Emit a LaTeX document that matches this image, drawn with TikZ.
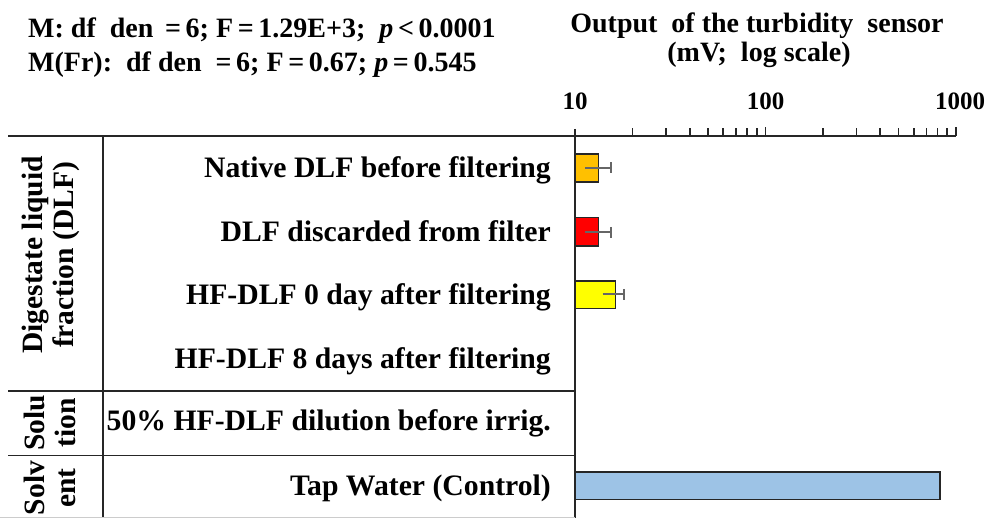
\documentclass[tikz,border=0pt]{standalone}
\usepackage{fontspec}
\setmainfont{Liberation Serif}
\begin{document}
\begin{tikzpicture}[x=1pt,y=-1pt,
  lab/.style={font=\fontsize{29.7}{32}\selectfont\bfseries, inner sep=0pt, anchor=base east},
  grp/.style={font=\fontsize{29.5}{31}\selectfont\bfseries, inner sep=0pt, align=center, rotate=90, anchor=center},
  hdr/.style={font=\fontsize{28}{30}\selectfont\bfseries, inner sep=0pt},
  tick/.style={font=\fontsize{25}{28}\selectfont\bfseries, inner sep=0pt, anchor=base},
  frame/.style={line width=1.8pt, black!85},
  bar/.style={line width=1.5pt, draw=black!85},
  err/.style={line width=2pt, draw=black!60}
]
\useasboundingbox (0,0) rectangle (987,518);
% header texts
\node[hdr, anchor=base west] (s1) at (28,38) {M:\ df\ \ den \,=\,6; F\,=\,1.29E+3;\ \ \textit{p}\,<\,0.0001};
\node[hdr, anchor=base west] (s2) at (28,71.5) {M(Fr):\ \ df\ den \ =\,6; F\,=\,0.67; \textit{p}\,=\,0.545};
\node[hdr, anchor=base] (t1) at (757,33) {Output\ \ of the turbidity\ \ sensor};
\node[hdr, anchor=base] (t2) at (759,62) {(mV;\ \ log scale)};
% tick labels
\node[tick] (k10) at (575,110) {10};
\node[tick] (k100) at (765.5,110) {100};
\node[tick] (k1000) at (960,110) {1000};
% frame lines
\draw[frame] (8,136) -- (956,136);
\draw[frame] (575,129) -- (575,518);
\draw[frame] (103,136) -- (103,518);
\draw[frame] (8,391) -- (575,391);
\draw[frame] (8,455.5) -- (575,455.5);
\draw[line width=1pt, black!20] (0,517) -- (575,517);
% ticks
\foreach \d in {575,765.5}{
  \foreach \m in {2,...,9}{
    \pgfmathsetmacro\xx{\d+190.5*log10(\m)}
    \draw[line width=1.6pt, black!85] (\xx,136) -- (\xx,128.5);
  }
}
\draw[line width=1.6pt, black!85] (765.5,136) -- (765.5,127.5);
\draw[line width=1.6pt, black!85] (956,136) -- (956,127.5);
% bars
\draw[bar, fill={rgb,255:red,255;green,192;blue,0}] (575,154) rectangle (598.5,182);
\draw[bar, fill={rgb,255:red,255;green,0;blue,0}] (575,217.5) rectangle (598.5,246);
\draw[bar, fill={rgb,255:red,255;green,255;blue,0}] (575,281) rectangle (615.5,308.5);
\draw[bar, fill={rgb,255:red,157;green,195;blue,230}] (575,472) rectangle (940,499.5);
% error bars
\draw[err] (585,168) -- (611,168) (611,162.5) -- (611,173.5);
\draw[err] (585,232.5) -- (611,232.5) (611,227) -- (611,238);
\draw[err] (602.5,294.5) -- (624,294.5) (624,289) -- (624,300);
% row labels
\node[lab] (r1) at (551,178) {Native DLF before filtering};
\node[lab] (r2) at (551,241.7) {DLF discarded from filter};
\node[lab] (r3) at (551,305) {HF-DLF 0 day after filtering};
\node[lab] (r4) at (551,368) {HF-DLF 8 days after filtering};
\node[lab] (r5) at (551,430) {50\% HF-DLF dilution before irrig.};
\node[lab] (r6) at (551,495) {Tap Water (Control)};
% group labels
\node[grp] (g1) at (51,255) {Digestate liquid\\fraction (DLF)};
\node[grp] (g2) at (50,423) {Solu\\tion};
\node[grp] (g3) at (50,488) {Solv\\ent};
\end{tikzpicture}
\end{document}
